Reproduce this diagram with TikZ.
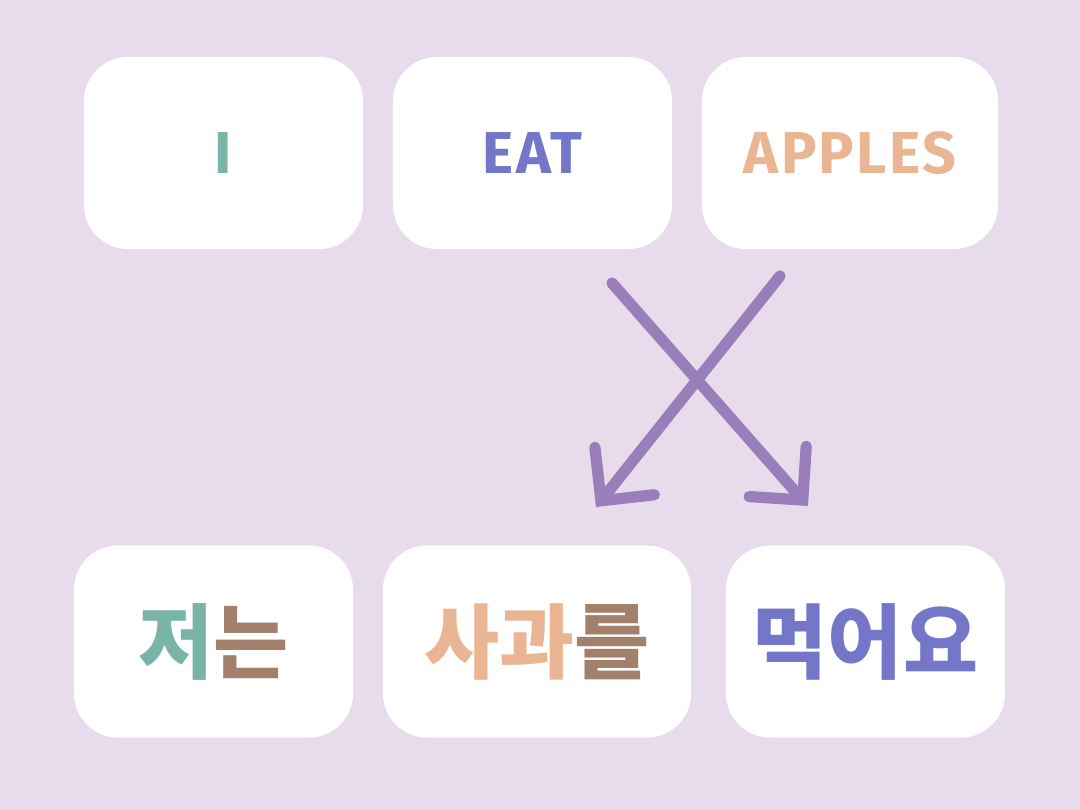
\documentclass[tikz,border=0pt]{standalone}
\usepackage{fontspec}
\setmainfont{Fira Sans}
\newfontfamily\kofont{Noto Sans CJK KR}
\usetikzlibrary{arrows.meta}

\definecolor{bgpurple}{HTML}{E8DCEC}
\definecolor{tealword}{HTML}{79B4A9}
\definecolor{blueword}{HTML}{7477C8}
\definecolor{peachword}{HTML}{E9B592}
\definecolor{brownword}{HTML}{A3806C}
\definecolor{crosspurple}{HTML}{9A7EBA}

\tikzset{
  card/.style={fill=white, rounded corners=1.1cm, inner sep=0pt, minimum height=4.8cm},
  entext/.style={font=\fontsize{42}{42}\selectfont\bfseries\addfontfeatures{LetterSpace=4}},
  kotext/.style={font=\kofont\fontsize{58}{58}\selectfont\bfseries},
  cross/.style={draw=crosspurple, line width=8pt, line cap=round,
    -{Straight Barb[length=0.95cm,width=1.9cm,line cap=round]}}
}

\begin{document}
\begin{tikzpicture}[x=0.025cm,y=-0.025cm]

\fill [bgpurple] (0,0) rectangle (1080,810) ;

% english row
\node [card, entext, minimum width=6.975cm, text=tealword] (i) at (223.5,153) {I} ;
\node [card, entext, minimum width=6.975cm, text=blueword] (eat) at (532.5,153) {EAT} ;
\node [card, entext, minimum width=7.4cm, text=peachword] (apples) at (850,153) {APPLES} ;

% korean row
\node [card, kotext, minimum width=6.975cm] (jeoneun) at (213.5,641.5) {\textcolor{tealword}{저}\textcolor{brownword}{는}} ;
\node [card, kotext, minimum width=7.7cm] (sagwareul) at (537,641.5) {\textcolor{peachword}{사과}\textcolor{brownword}{를}} ;
\node [card, kotext, minimum width=6.975cm, text=blueword] (meogeoyo) at (865.5,641.5) {먹어요} ;

% crossing arrows
\coordinate (eatfrom) at (612,283) ;
\coordinate (eatto) at (808,506) ;
\coordinate (applesfrom) at (780,276) ;
\coordinate (applesto) at (596,507) ;
\draw [cross] (eatfrom) -- (eatto) ;
\draw [cross] (applesfrom) -- (applesto) ;

\end{tikzpicture}
\end{document}
